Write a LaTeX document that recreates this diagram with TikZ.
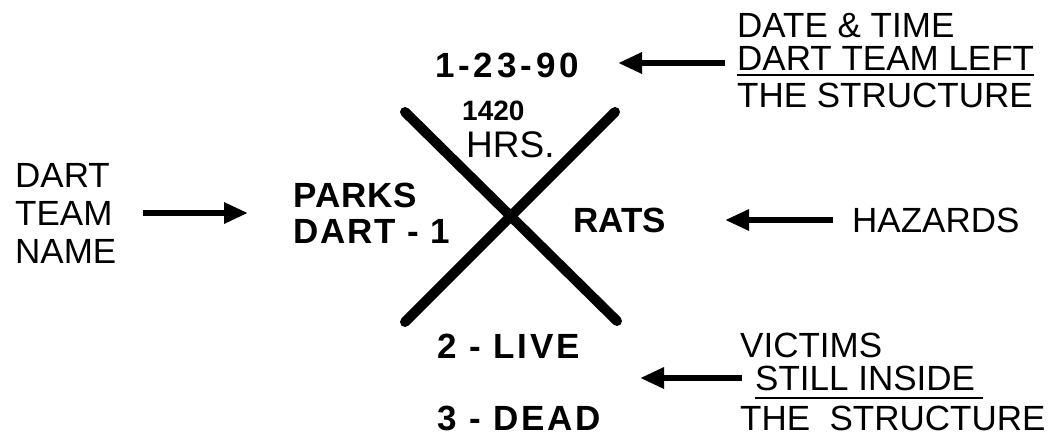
\documentclass[tikz,border=0pt]{standalone}
\usepackage{fontspec}
\setmainfont{Liberation Sans}
\usetikzlibrary{arrows.meta}
\begin{document}
\begin{tikzpicture}[x=1pt,y=-1pt,
  lbl/.style={inner sep=0pt, anchor=base west, font=\fontsize{35}{40}\selectfont},
  blbl/.style={inner sep=0pt, anchor=base west, font=\fontsize{35}{40}\selectfont\bfseries},
  bigarrow/.style={line width=6.5pt, -{Triangle[length=24pt,width=20pt]}},
  xline/.style={line width=10pt, line cap=round},
  uline/.style={line width=2pt}]
\useasboundingbox (0,0) rectangle (1049,440);
% left labels
\node[lbl] (dart) at (15,187) {DART};
\node[lbl] (team) at (15,225) {TEAM};
\node[lbl] (name) at (15,263) {NAME};
% center labels
\node[blbl] (date) at (435,77) {\addfontfeatures{LetterSpace=11}1-23-90};
\node[blbl, font=\fontsize{28}{30}\selectfont\bfseries] (t1420) at (462,120) {1420};
\node[lbl, font=\fontsize{37}{40}\selectfont] (hrs) at (466,157) {HRS.};
\node[blbl] (parks) at (293,207) {\addfontfeatures{LetterSpace=3}PARKS};
\node[blbl] (dart1) at (293,243) {\addfontfeatures{LetterSpace=5}DART - 1};
\node[blbl] (rats) at (573,232) {RATS};
\node[blbl] (live) at (437,358) {\addfontfeatures{LetterSpace=8}2 - LIVE};
\node[blbl] (dead) at (437,430) {\addfontfeatures{LetterSpace=8}3 - DEAD};
% right labels
\node[lbl] (dt) at (737,37) {DATE \& TIME};
\node[lbl] (dtl) at (737,70) {DART TEAM LEFT};
\node[lbl] (ts1) at (737,107) {THE STRUCTURE};
\node[lbl] (haz) at (852,232) {HAZARDS};
\node[lbl] (vic) at (740,357) {VICTIMS};
\node[lbl] (still) at (755,390) {STILL INSIDE};
\node[lbl] (ts2) at (740,430) {THE\ \ STRUCTURE};
% underlines
\draw[uline] ([yshift=-5pt]dtl.base west) -- ([yshift=-5pt]dtl.base east);
\draw[uline] ([yshift=-8pt]still.base west) -- ([yshift=-8pt,xshift=8pt]still.base east);
% X
\coordinate (xa) at (405,112);
\coordinate (xb) at (617,321);
\coordinate (xc) at (615,112);
\coordinate (xd) at (405,322);
\draw[xline] (xa) -- (xb);
\draw[xline] (xc) -- (xd);
% arrows
\coordinate (a1s) at (143,213);
\coordinate (a1e) at (248,213);
\draw[bigarrow] (a1s) -- (a1e);
\coordinate (a2s) at (725,63);
\coordinate (a2e) at (618,63);
\draw[bigarrow] (a2s) -- (a2e);
\coordinate (a3s) at (833,220);
\coordinate (a3e) at (725,220);
\draw[bigarrow] (a3s) -- (a3e);
\coordinate (a4s) at (742,378);
\coordinate (a4e) at (640,378);
\draw[bigarrow] (a4s) -- (a4e);
\end{tikzpicture}
\end{document}
